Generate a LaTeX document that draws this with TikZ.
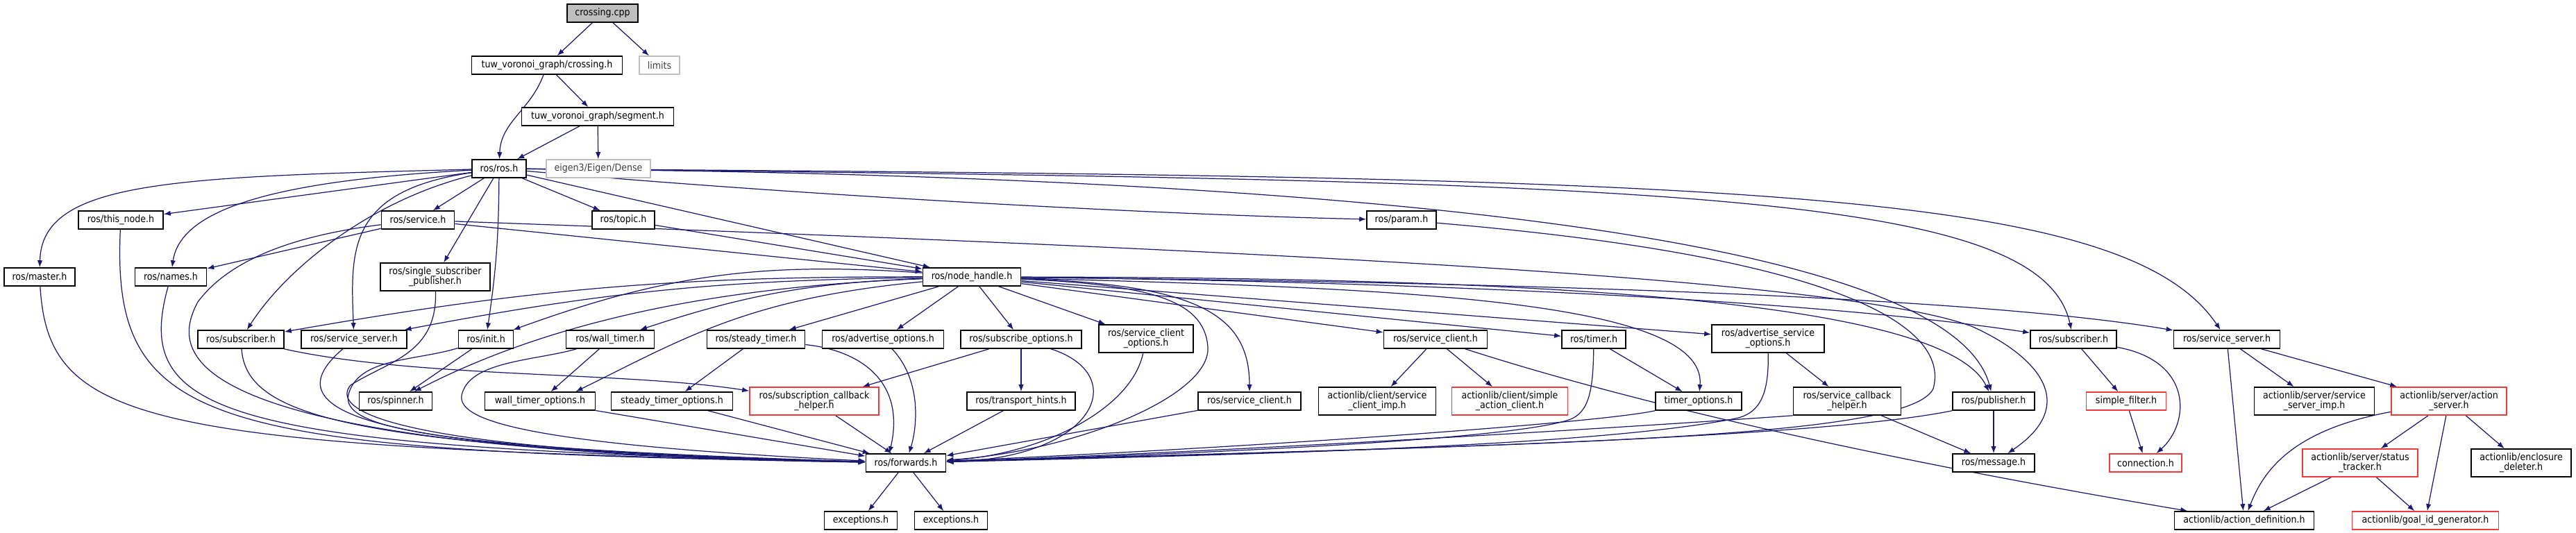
\documentclass[tikz,border=0pt]{standalone}
\usepackage{fontspec}
\setmainfont{DejaVu Sans Condensed}
\usetikzlibrary{arrows.meta}
\pgfdeclarelayer{nodelayer}
\pgfdeclarelayer{edgelayer}
\pgfsetlayers{edgelayer,nodelayer,main}
\definecolor{edgeblue}{HTML}{191970}
\definecolor{truncred}{HTML}{F23C3C}
\definecolor{extgray}{HTML}{BFBFBF}
\tikzstyle{box}=[fill=white, draw=black, shape=rectangle, line width=0.45pt, minimum height=0.26cm, inner sep=0.4pt, align=center, font=\fontsize{4}{4.1}\selectfont]
\tikzstyle{box two}=[box, minimum height=0.40cm]
\tikzstyle{truncated box}=[box, draw=truncred]
\tikzstyle{truncated box two}=[box two, draw=truncred]
\tikzstyle{external box}=[box, draw=extgray, text=black!75]
\tikzstyle{main box}=[box, fill=extgray]
\tikzstyle{directed edge}=[-{Latex[length=1mm, width=0.75mm]}, color=edgeblue, line width=0.35pt]

\begin{document}
\begin{tikzpicture}
	\useasboundingbox (0, 0) rectangle (37.11, -7.68);
	\begin{pgfonlayer}{nodelayer}
		\node [style=main box, minimum width=1.02cm] (0) at (8.68, -0.19) {crossing.cpp};
		\node [style=box, minimum width=2.17cm] (1) at (7.88, -0.94) {tuw\_voronoi\_graph/crossing.h};
		\node [style=external box, minimum width=0.58cm] (2) at (9.50, -0.94) {limits};
		\node [style=box, minimum width=2.19cm] (3) at (8.61, -1.68) {tuw\_voronoi\_graph/segment.h};
		\node [style=box, minimum width=0.78cm] (4) at (7.19, -2.43) {ros/ros.h};
		\node [style=external box, minimum width=1.50cm] (5) at (8.62, -2.43) {eigen3/Eigen/Dense};
		\node [style=box, minimum width=1.22cm] (6) at (1.74, -3.17) {ros/this\_node.h};
		\node [style=box, minimum width=1.05cm] (7) at (6.02, -3.17) {ros/service.h};
		\node [style=box, minimum width=0.90cm] (8) at (8.98, -3.17) {ros/topic.h};
		\node [style=box, minimum width=1.00cm] (9) at (20.19, -3.17) {ros/param.h};
		\node [style=box, minimum width=1.02cm] (10) at (0.57, -3.99) {ros/master.h};
		\node [style=box, minimum width=1.03cm] (11) at (2.46, -3.99) {ros/names.h};
		\node [style=box two, minimum width=1.58cm] (12) at (6.27, -3.99) {ros/single\_subscriber\\\_publisher.h};
		\node [style=box, minimum width=1.41cm] (13) at (14.00, -3.99) {ros/node\_handle.h};
		\node [style=box, minimum width=1.24cm] (14) at (3.47, -4.89) {ros/subscriber.h};
		\node [style=box, minimum width=1.52cm] (15) at (5.10, -4.89) {ros/service\_server.h};
		\node [style=box, minimum width=0.79cm] (16) at (7.00, -4.89) {ros/init.h};
		\node [style=box, minimum width=1.27cm] (17) at (8.79, -4.89) {ros/wall\_timer.h};
		\node [style=box, minimum width=1.41cm] (18) at (10.89, -4.89) {ros/steady\_timer.h};
		\node [style=box, minimum width=1.75cm] (19) at (12.72, -4.89) {ros/advertise\_options.h};
		\node [style=box, minimum width=1.74cm] (20) at (14.71, -4.89) {ros/subscribe\_options.h};
		\node [style=box two, minimum width=1.36cm] (21) at (16.51, -4.88) {ros/service\_client\\\_options.h};
		\node [style=box, minimum width=1.49cm] (22) at (20.68, -4.89) {ros/service\_client.h};
		\node [style=box, minimum width=0.92cm] (23) at (22.96, -4.89) {ros/timer.h};
		\node [style=box two, minimum width=1.62cm] (24) at (25.47, -4.88) {ros/advertise\_service\\\_options.h};
		\node [style=box, minimum width=1.24cm] (25) at (29.87, -4.89) {ros/subscriber.h};
		\node [style=box, minimum width=1.53cm] (26) at (32.08, -4.89) {ros/service\_server.h};
		\node [style=box, minimum width=1.05cm] (27) at (5.70, -5.78) {ros/spinner.h};
		\node [style=box, minimum width=1.59cm] (28) at (7.78, -5.78) {wall\_timer\_options.h};
		\node [style=box, minimum width=1.75cm] (29) at (9.68, -5.78) {steady\_timer\_options.h};
		\node [style=truncated box two, minimum width=1.86cm] (30) at (11.73, -5.78) {ros/subscription\_callback\\\_helper.h};
		\node [style=box, minimum width=1.56cm] (31) at (14.71, -5.78) {ros/transport\_hints.h};
		\node [style=box, minimum width=1.48cm] (32) at (18.00, -5.78) {ros/service\_client.h};
		\node [style=box two, minimum width=1.69cm] (33) at (19.84, -5.78) {actionlib/client/service\\\_client\_imp.h};
		\node [style=truncated box two, minimum width=1.67cm] (34) at (21.75, -5.78) {actionlib/client/simple\\\_action\_client.h};
		\node [style=box, minimum width=1.24cm] (35) at (24.47, -5.78) {timer\_options.h};
		\node [style=box two, minimum width=1.55cm] (36) at (26.61, -5.78) {ros/service\_callback\\\_helper.h};
		\node [style=box, minimum width=1.18cm] (37) at (28.72, -5.78) {ros/publisher.h};
		\node [style=truncated box, minimum width=1.15cm] (38) at (30.63, -5.78) {simple\_filter.h};
		\node [style=box two, minimum width=1.73cm] (39) at (33.34, -5.78) {actionlib/server/service\\\_server\_imp.h};
		\node [style=truncated box two, minimum width=1.66cm] (40) at (35.28, -5.78) {actionlib/server/action\\\_server.h};
		\node [style=box, minimum width=1.15cm] (41) at (13.05, -6.67) {ros/forwards.h};
		\node [style=box, minimum width=1.18cm] (42) at (28.72, -6.67) {ros/message.h};
		\node [style=truncated box, minimum width=1.04cm] (43) at (30.91, -6.67) {connection.h};
		\node [style=truncated box two, minimum width=1.66cm] (44) at (34.00, -6.67) {actionlib/server/status\\\_tracker.h};
		\node [style=box two, minimum width=1.44cm] (45) at (36.32, -6.67) {actionlib/enclosure\\\_deleter.h};
		\node [style=box, minimum width=1.05cm] (46) at (12.40, -7.50) {exceptions.h};
		\node [style=box, minimum width=1.05cm] (47) at (13.70, -7.50) {exceptions.h};
		\node [style=box, minimum width=2.01cm] (48) at (32.33, -7.50) {actionlib/action\_definition.h};
		\node [style=truncated box, minimum width=2.11cm] (49) at (34.94, -7.50) {actionlib/goal\_id\_generator.h};
	\end{pgfonlayer}
	\begin{pgfonlayer}{edgelayer}
		% top of the graph
		\draw [style=directed edge] (0) to (1);
		\draw [style=directed edge] (0) to (2);
		\draw [style=directed edge] (1) to [out=-110, in=88] (4);
		\draw [style=directed edge] (1) to (3);
		\draw [style=directed edge] (3) to (4);
		\draw [style=directed edge] (3) to (5);
		% ros/ros.h
		\draw [style=directed edge] (4) to (6);
		\draw [style=directed edge] (4) .. controls (2.5, -2.55) and (0.6, -2.6) .. (10);
		\draw [style=directed edge] (4) .. controls (4.0, -2.6) and (2.6, -3.0) .. (11);
		\draw [style=directed edge] (4) to (7);
		\draw [style=directed edge] (4) .. controls (5.3, -2.9) and (4.1, -3.9) .. (14);
		\draw [style=directed edge] (4) .. controls (5.0, -2.75) and (5.05, -3.6) .. (15);
		\draw [style=directed edge] (4) to (12);
		\draw [style=directed edge] (4) to [bend left=4] (16);
		\draw [style=directed edge] (4) to (8);
		\draw [style=directed edge] (4) to (13);
		\draw [style=directed edge] (4) .. controls (12, -2.85) and (17, -3.1) .. (9);
		\draw [style=directed edge] (4) .. controls (16, -2.5) and (28, -3.0) .. (37);
		\draw [style=directed edge] (4) .. controls (24, -2.6) and (29.4, -2.75) .. (25);
		\draw [style=directed edge] (4) .. controls (25, -2.55) and (30.6, -2.7) .. (26);
		% ros/service.h, ros/topic.h, ros/param.h
		\draw [style=directed edge] (7) to (11);
		\draw [style=directed edge] (7) to (13);
		\draw [style=directed edge] (7) .. controls (18, -3.6) and (26.5, -4.0) .. (28.4, -4.7) .. controls (29.3, -5.1) and (30.0, -5.8) .. (42);
		\draw [style=directed edge] (7) .. controls (4.2, -3.4) and (3.3, -3.75) .. (2.85, -4.35) .. controls (2.45, -5.1) and (2.4, -6.5) .. (41);
		\draw [style=directed edge] (8) to (13);
		\draw [style=directed edge] (9) .. controls (26.5, -3.7) and (28.1, -4.7) .. (27.85, -5.6) .. controls (27.5, -6.35) and (22, -6.4) .. (41);
		% left side down to ros/forwards.h
		\draw [style=directed edge] (10) .. controls (0.7, -6.1) and (2.0, -6.45) .. (41);
		\draw [style=directed edge] (6) .. controls (1.6, -6.2) and (3.0, -6.5) .. (41);
		\draw [style=directed edge] (11) .. controls (1.9, -6.0) and (3.2, -6.45) .. (41);
		\draw [style=directed edge] (12) .. controls (6.3, -5.1) and (5.6, -5.2) .. (5.05, -5.55) .. controls (4.8, -5.85) and (5.2, -6.5) .. (41);
		\draw [style=directed edge] (14) .. controls (3.55, -6.0) and (5.0, -6.45) .. (41);
		\draw [style=directed edge] (14) .. controls (6, -5.45) and (9, -5.35) .. (30);
		\draw [style=directed edge] (15) .. controls (3.8, -6.0) and (5.5, -6.5) .. (41);
		\draw [style=directed edge] (16) to (27);
		\draw [style=directed edge] (16) .. controls (6.0, -5.2) and (5.2, -5.15) .. (5.03, -5.65) .. controls (4.85, -6.15) and (6.0, -6.45) .. (41);
		\draw [style=directed edge] (17) to (28);
		\draw [style=directed edge] (17) .. controls (7.7, -5.2) and (6.75, -5.2) .. (6.65, -5.7) .. controls (6.6, -6.05) and (7.5, -6.4) .. (41);
		\draw [style=directed edge] (18) to (29);
		\draw [style=directed edge] (18) .. controls (12.4, -5.05) and (13.05, -5.5) .. (41.150);
		\draw [style=directed edge] (28) to (41);
		\draw [style=directed edge] (29) to (41);
		\draw [style=directed edge] (30) to (41);
		\draw [style=directed edge] (19) .. controls (13.3, -5.5) and (13.2, -6.2) .. (41);
		\draw [style=directed edge] (20) to (31);
		\draw [style=directed edge] (20) to (30);
		\draw [style=directed edge] (20) .. controls (16.3, -5.4) and (15.8, -6.6) .. (41);
		\draw [style=directed edge] (31) to (41);
		\draw [style=directed edge] (21) .. controls (16.3, -5.9) and (15, -6.55) .. (41);
		\draw [style=directed edge] (32) to (41);
		% ros/node_handle.h
		\draw [style=directed edge] (13) to [bend right=5] (14);
		\draw [style=directed edge] (13) to [bend right=5] (15);
		\draw [style=directed edge] (13) to [bend right=12] (16);
		\draw [style=directed edge] (13) .. controls (9.8, -4.15) and (7.6, -4.8) .. (27);
		\draw [style=directed edge] (13) to [bend right=8] (17);
		\draw [style=directed edge] (13) .. controls (10.8, -4.3) and (9.9, -4.85) .. (28.15);
		\draw [style=directed edge] (13) to (18);
		\draw [style=directed edge] (13) to (19);
		\draw [style=directed edge] (13) to (20);
		\draw [style=directed edge] (13) to (21);
		\draw [style=directed edge] (13) .. controls (16.5, -4.1) and (17.35, -4.3) .. (17.4, -5.0) .. controls (17.45, -5.7) and (15.5, -6.5) .. (41);
		\draw [style=directed edge] (13) .. controls (17.2, -4.1) and (18.0, -4.5) .. (32);
		\draw [style=directed edge] (13) to (22);
		\draw [style=directed edge] (13) to (23);
		\draw [style=directed edge] (13) .. controls (20, -4.15) and (24.6, -4.3) .. (35);
		\draw [style=directed edge] (13) to (24);
		\draw [style=directed edge] (13) .. controls (22, -4.0) and (28, -4.3) .. (37);
		\draw [style=directed edge] (13) .. controls (20, -4.05) and (26, -4.3) .. (25);
		\draw [style=directed edge] (13) .. controls (20, -4.05) and (28, -4.2) .. (26);
		% right side
		\draw [style=directed edge] (22) to (33);
		\draw [style=directed edge] (22) to (34);
		\draw [style=directed edge] (22) .. controls (23.5, -5.8) and (27, -6.6) .. (48);
		\draw [style=directed edge] (23) to (35);
		\draw [style=directed edge] (23) .. controls (22.95, -5.6) and (22.9, -5.95) .. (22.6, -6.05) .. controls (21.7, -6.35) and (17, -6.55) .. (41);
		\draw [style=directed edge] (35.south west) .. controls (23, -6.1) and (18, -6.45) .. (41);
		\draw [style=directed edge] (24) to (36);
		\draw [style=directed edge] (24) .. controls (25.48, -5.6) and (25.4, -5.95) .. (25.0, -6.03) .. controls (23, -6.43) and (18, -6.55) .. (41);
		\draw [style=directed edge] (36) to (42);
		\draw [style=directed edge] (36.south west) .. controls (24, -6.12) and (18, -6.5) .. (41);
		\draw [style=directed edge] (37) to (42);
		\draw [style=directed edge] (37.south west) .. controls (26, -6.35) and (19, -6.5) .. (41);
		\draw [style=directed edge] (25) to (38);
		\draw [style=directed edge] (25) .. controls (31.6, -5.2) and (31.55, -6.1) .. (43);
		\draw [style=directed edge] (38) to (43);
		\draw [style=directed edge] (26) to (48);
		\draw [style=directed edge] (26) to (39);
		\draw [style=directed edge] (26) to (40);
		\draw [style=directed edge] (40) .. controls (33.0, -6.2) and (32.6, -6.8) .. (48);
		\draw [style=directed edge] (40) to (44);
		\draw [style=directed edge] (40) to (49);
		\draw [style=directed edge] (40) to (45);
		\draw [style=directed edge] (44) to (48);
		\draw [style=directed edge] (44) to (49);
		% ros/forwards.h
		\draw [style=directed edge] (41) to (46);
		\draw [style=directed edge] (41) to (47);
	\end{pgfonlayer}
\end{tikzpicture}
\end{document}
